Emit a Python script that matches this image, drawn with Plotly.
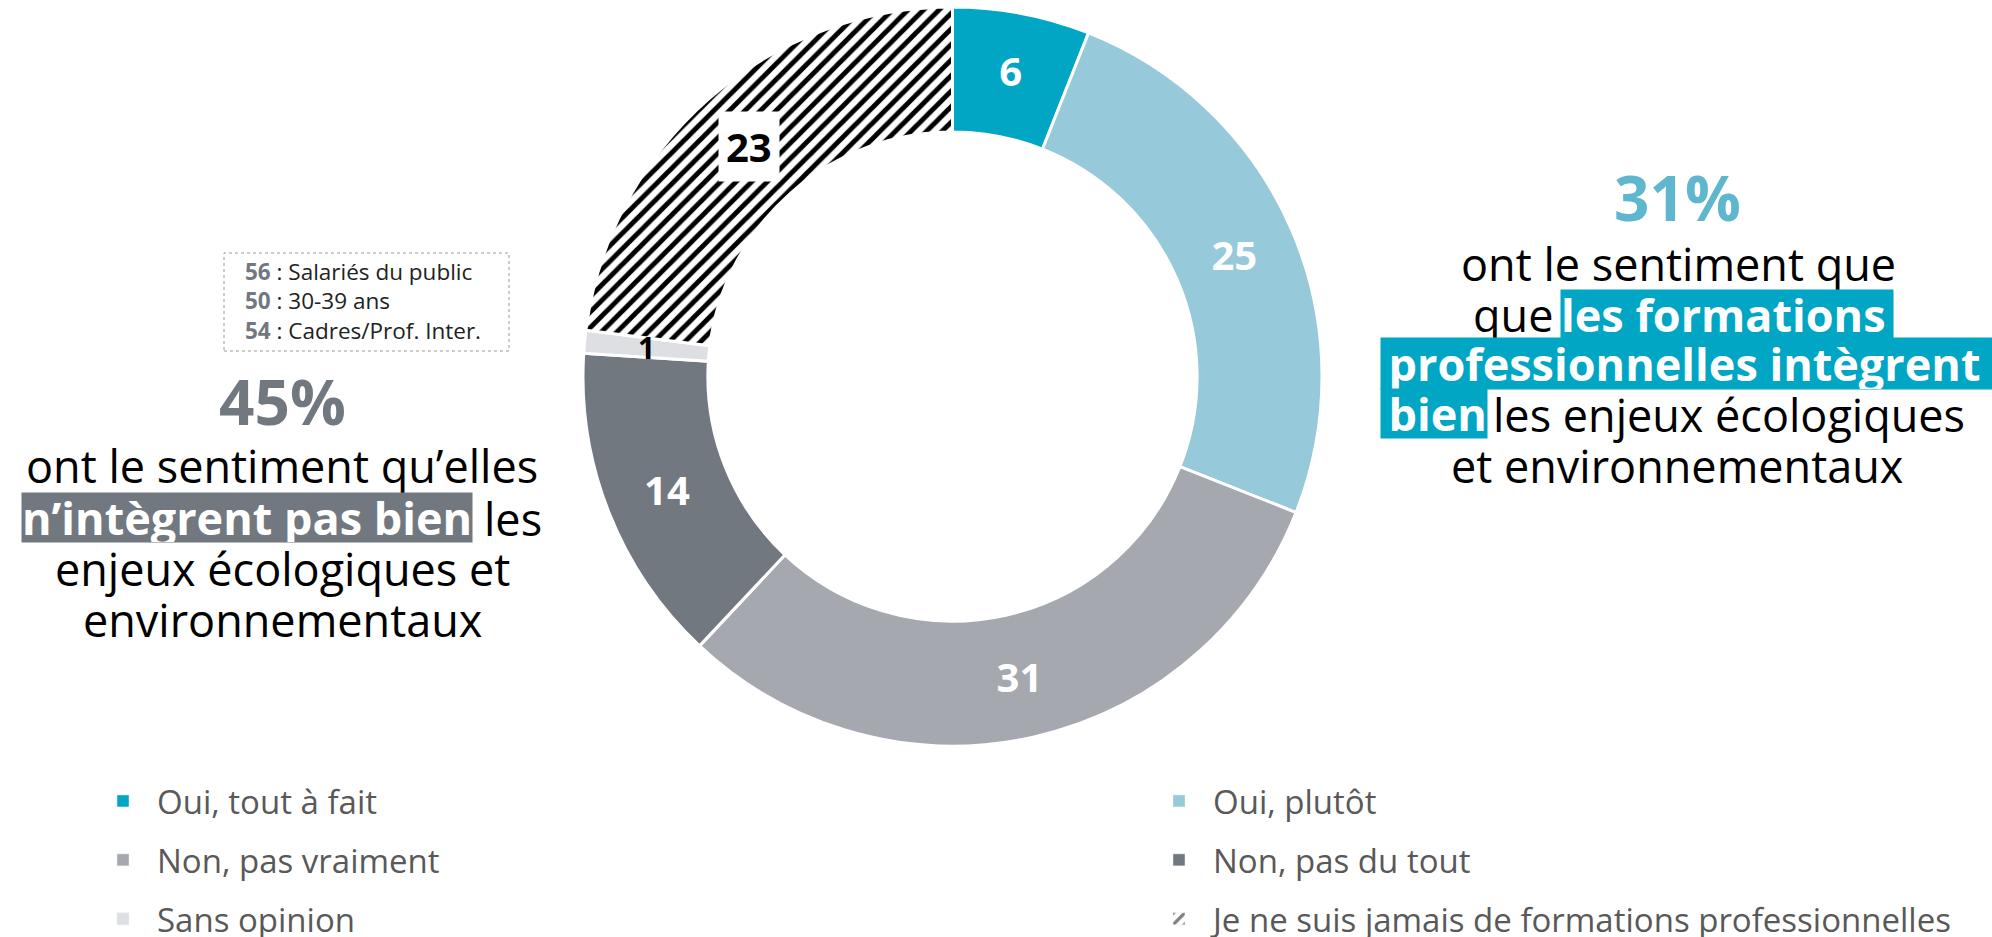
import math
import plotly.graph_objects as go

W, H = 1992, 937

# ---------------- data ----------------
categories = [
    "Oui, tout à fait",
    "Oui, plutôt",
    "Non, pas vraiment",
    "Non, pas du tout",
    "Sans opinion",
    "Je ne suis jamais de formations professionnelles",
]
values = [6, 25, 31, 14, 1, 23]
colors = ["#00A6C4", "#96C9DA", "#A5A9AF", "#717880", "#DEDFE2", "#FFFFFF"]
pattern_shapes = ["", "", "", "", "", "/"]
legend_ids = ["legend", "legend2", "legend", "legend2", "legend", "legend2"]
label_inside = [True, True, True, True, False, False]

box_values = ["56", "50", "54"]
box_labels = ["Salariés du public", "30-39 ans", "Cadres/Prof. Inter."]

positive_share = values[0] + values[1]
negative_share = values[2] + values[3]

# ---------------- style constants ----------------
FONT = "Open Sans"
TEAL = "#00A6C4"
LIGHT_TEAL = "#5FB6CF"
GREY = "#717880"
cx, cy, R = 952.5, 376.5, 369.5
HOLE = 0.662
FS = 45


def px(x):
    return x / W


def py(y):
    return 1 - y / H


fig = go.Figure()

pie_text = [str(v) if show else "" for v, show in zip(values, label_inside)]
fig.add_trace(go.Pie(
    labels=categories,
    values=values,
    text=pie_text,
    textinfo="text",
    textposition="inside",
    insidetextorientation="horizontal",
    textfont=dict(family=FONT, size=40, color="white", weight="bold"),
    hole=HOLE,
    sort=False,
    direction="clockwise",
    rotation=0,
    marker=dict(
        colors=colors,
        line=dict(color="white", width=3),
        pattern=dict(shape=pattern_shapes, fgcolor="black", size=11, solidity=0.45),
    ),
    domain=dict(x=[px(cx - R), px(cx + R)], y=[py(cy + R), py(cy - R)]),
    showlegend=False,
    hoverinfo="label+value",
))

# legend entries (two columns -> two legends)
for cat, col, pat, lid in zip(categories, colors, pattern_shapes, legend_ids):
    fig.add_trace(go.Bar(
        x=[None], y=[None], name=cat, legend=lid, legendgroup=cat,
        marker=dict(color=col, pattern=dict(shape=pat, fgcolor="black", size=12, solidity=0.4)),
        showlegend=True,
    ))

annotations = []

# labels for small / hatched slices, positioned from the data
total = sum(values)
rm = R * (1 + HOLE) / 2
cum = 0
for v, show, pat in zip(values, label_inside, pattern_shapes):
    theta = 2 * math.pi * (cum + v / 2) / total
    cum += v
    if show:
        continue
    x = cx + rm * math.sin(theta)
    y = cy - rm * math.cos(theta)
    annotations.append(dict(
        x=px(x), y=py(y), xref="paper", yref="paper", showarrow=False,
        xanchor="center", yanchor="middle",
        text=f"<b>{v}</b>",
        font=dict(family=FONT, size=40 if pat else 30, color="black"),
        bgcolor="white" if pat else None, borderpad=7,
    ))


def ann(text, x, y, size=FS, color="black", xanchor="center", bg=None, bold=False, height=None):
    if bold:
        text = f"<b>{text}</b>"
    d = dict(
        x=px(x), y=py(y), xref="paper", yref="paper", showarrow=False,
        text=text, xanchor=xanchor, yanchor="middle",
        font=dict(family=FONT, size=size, color=color),
        bgcolor=bg, borderpad=0,
    )
    if height:
        d["height"] = height
        d["valign"] = "middle"
    annotations.append(d)


# right block
ann(f"{positive_share}%", 1677, 197, size=62, color=LIGHT_TEAL, bold=True)
ann("ont le sentiment que", 1678, 263)
ann("que", 1554, 314, xanchor="right")
ann("les formations\u2009", 1560, 314, color="white", xanchor="left", bg=TEAL, bold=True, height=48)
ann("\u2009professionnelles intègrent\u00a0", 1380, 363.5, color="white", xanchor="left", bg=TEAL, bold=True, height=51)
ann("\u2009bien", 1380, 413.5, color="white", xanchor="left", bg=TEAL, bold=True, height=49)
ann("les enjeux écologiques", 1492, 414, xanchor="left")
ann("et environnementaux", 1677, 465)

# left block
ann(f"{negative_share}%", 282, 401, size=62, color=GREY, bold=True)
ann("ont le sentiment qu’elles", 282, 465)
ann("n’intègrent pas bien", 473, 517.5, color="white", xanchor="right", bg=GREY, bold=True, height=49)
ann("les", 483, 518, xanchor="left")
ann("enjeux écologiques et", 282, 568)
ann("environnementaux", 282, 619)

# dotted info box
box_text = "<br>".join(
    f"<b><span style='color:{GREY}'>{v}</span></b> : {l}" for v, l in zip(box_values, box_labels)
)
annotations.append(dict(
    x=px(243), y=py(301), xref="paper", yref="paper", showarrow=False,
    text=box_text, xanchor="left", yanchor="middle", align="left",
    font=dict(family=FONT, size=22.5, color="#222222"),
))

shapes = [dict(
    type="rect", xref="paper", yref="paper",
    x0=px(224), x1=px(509), y0=py(351), y1=py(253),
    line=dict(color="#9A9A9A", width=1, dash="dot"),
)]

legend_common = dict(
    orientation="v", yanchor="top", xanchor="left",
    font=dict(family=FONT, size=33, color="#595959"),
    itemwidth=58, tracegroupgap=13, bgcolor="rgba(0,0,0,0)",
    traceorder="grouped",
)

fig.update_layout(
    width=W, height=H,
    margin=dict(l=0, r=0, t=0, b=0, autoexpand=False),
    paper_bgcolor="white", plot_bgcolor="white",
    font=dict(family=FONT),
    xaxis=dict(visible=False, domain=[0, 0.01]),
    yaxis=dict(visible=False, domain=[0, 0.01]),
    annotations=annotations,
    shapes=shapes,
    legend=dict(x=px(89), y=py(773), **legend_common),
    legend2=dict(x=px(1145), y=py(773), **legend_common),
)

fig.write_html(
    "out.html",
    config={"displayModeBar": False},
    post_script="document.body.style.margin='0';",
)
